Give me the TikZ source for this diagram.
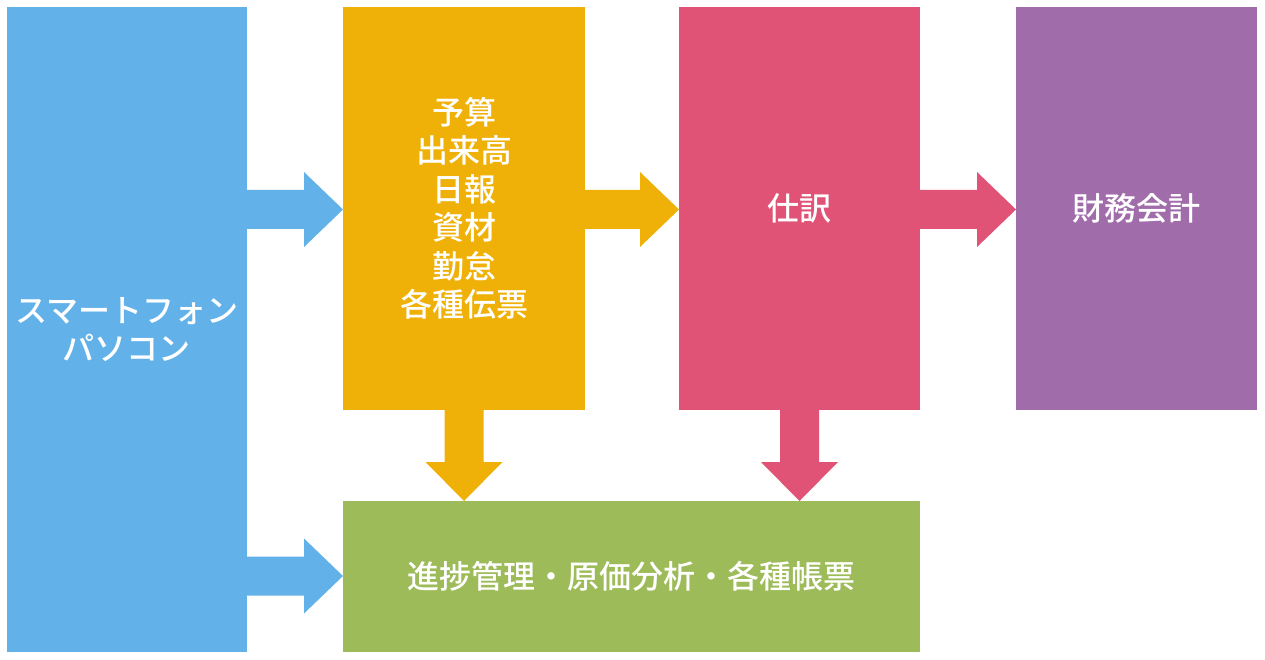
\documentclass[tikz,border=0pt]{standalone}
\usepackage{fontspec}
\newfontfamily\cjk{Noto Sans CJK JP}[BoldFont={Noto Sans CJK JP Medium}]
\usetikzlibrary{calc}
\definecolor{cblue}{HTML}{63B1E9}
\definecolor{cyellow}{HTML}{EFB107}
\definecolor{cpink}{HTML}{E05377}
\definecolor{cpurple}{HTML}{A06DAA}
\definecolor{cgreen}{HTML}{9DBB59}
\tikzset{
  box/.style={inner sep=0pt, outer sep=0pt, align=center, text=white,
    font=\cjk\bfseries\fontsize{32}{38.5}\selectfont},
}
% right fat arrow: colour, from node, to node, y centre
\newcommand\myRArrow[4]{%
  \fill[#1] ($(#2.east |- 0,#4)+(0,-19.5)$) -- ($(#3.west |- 0,#4)+(-39,-19.5)$)
    -- ($(#3.west |- 0,#4)+(-39,-37.5)$) -- (#3.west |- 0,#4)
    -- ($(#3.west |- 0,#4)+(-39,37.5)$) -- ($(#3.west |- 0,#4)+(-39,19.5)$)
    -- ($(#2.east |- 0,#4)+(0,19.5)$) -- cycle;}
% down fat arrow: colour, from node, to node
\newcommand\myDArrow[3]{%
  \fill[#1] ($(#2.south)+(-19.5,0)$) -- ($(#2.south |- #3.north)+(-19.5,-39)$)
    -- ($(#2.south |- #3.north)+(-38.5,-39)$) -- (#2.south |- #3.north)
    -- ($(#2.south |- #3.north)+(38.5,-39)$) -- ($(#2.south |- #3.north)+(19.5,-39)$)
    -- ($(#2.south)+(19.5,0)$) -- cycle;}
\begin{document}
\begin{tikzpicture}[x=1pt,y=-1pt]
\useasboundingbox[fill=white] (0,0) rectangle (1265,660);
\node[box, fill=cblue, minimum width=240pt, minimum height=645pt] (dev) at (127,329.5) {スマートフォン\\パソコン};
\node[box, fill=cyellow, minimum width=242pt, minimum height=403pt] (input) at (464,208.5) {予算\\出来高\\日報\\資材\\勤怠\\各種伝票};
\node[box, fill=cpink, minimum width=241pt, minimum height=403pt] (journal) at (799.5,208.5) {仕訳};
\node[box, fill=cpurple, minimum width=241pt, minimum height=403pt] (fin) at (1136.5,208.5) {財務会計};
\node[box, fill=cgreen, minimum width=577pt, minimum height=151pt] (mgmt) at (631.5,576.5) {進捗管理・原価分析・各種帳票};
\myRArrow{cblue}{dev}{input}{209.5}
\myRArrow{cblue}{dev}{mgmt}{576}
\myRArrow{cyellow}{input}{journal}{209.5}
\myRArrow{cpink}{journal}{fin}{209.5}
\myDArrow{cyellow}{input}{mgmt}
\myDArrow{cpink}{journal}{mgmt}
\end{tikzpicture}
\end{document}
